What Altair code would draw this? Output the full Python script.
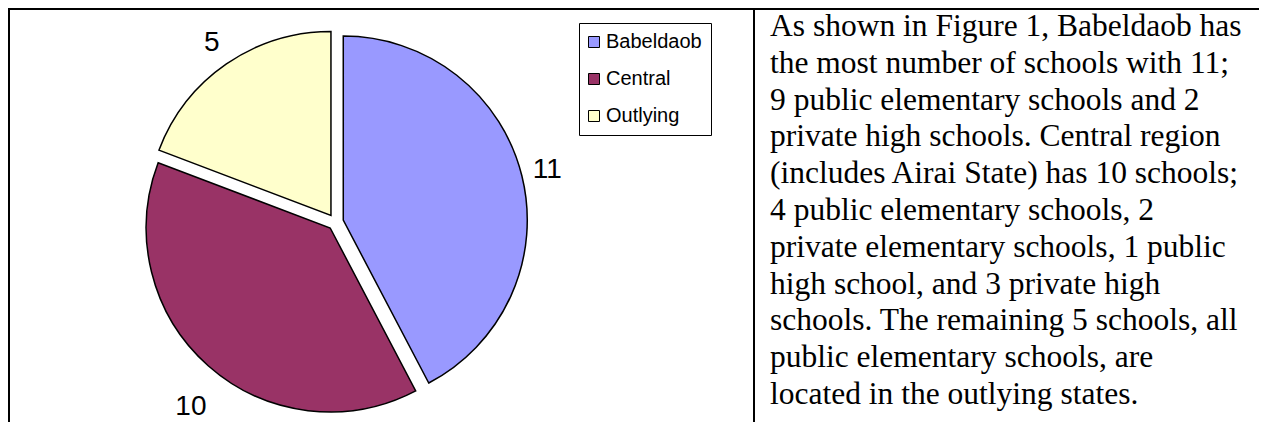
import altair as alt
import pandas as pd

# ---- data ----
regions = ["Babeldaob", "Central", "Outlying"]
schools = [11, 10, 5]
colors = ["#9999FF", "#993366", "#FFFFCC"]
paragraph = [
    "As shown in Figure 1, Babeldaob has",
    "the most number of schools with 11;",
    "9 public elementary schools and 2",
    "private high schools. Central region",
    "(includes Airai State) has 10 schools;",
    "4 public elementary schools, 2",
    "private elementary schools, 1 public",
    "high school, and 3 private high",
    "schools. The remaining 5 schools, all",
    "public elementary schools, are",
    "located in the outlying states.",
]

# ---- layout ----
W, H = 1251, 414
CX, CY = 327.5, 214      # pie centre
R = 184                  # pie radius
GAP = 8                  # explosion distance
LABEL_R = 210            # label distance from exploded centre
LABEL_DROP = 29          # extra push for labels below the pie
DIVIDER_X = 746
TEXT_X, TEXT_Y = 762, 28

df = pd.DataFrame({"region": regions, "schools": schools, "order": list(range(len(regions)))})

base = (
    alt.Chart(df)
    .transform_window(cum="sum(schools)", sort=[alt.SortField("order")], frame=[None, 0])
    .transform_joinaggregate(total="sum(schools)")
    .transform_calculate(
        t0="(datum.cum - datum.schools) / datum.total * 2 * PI",
        t1="datum.cum / datum.total * 2 * PI",
    )
    .transform_calculate(mid="(datum.t0 + datum.t1) / 2")
    .transform_calculate(
        px=f"{CX} + {GAP} * sin(datum.mid)",
        py=f"{CY} - {GAP} * cos(datum.mid)",
    )
    .transform_calculate(
        lx=f"datum.px + {LABEL_R} * sin(datum.mid)",
        ly=f"datum.py - {LABEL_R} * cos(datum.mid) + {LABEL_DROP} * max(0, -cos(datum.mid))",
    )
)

pie = base.mark_arc(radius=R, stroke="black", strokeWidth=1.5).encode(
    theta=alt.Theta("t0:Q", scale=None, stack=None),
    theta2=alt.Theta2("t1:Q"),
    x=alt.X("px:Q", scale=None, axis=None),
    y=alt.Y("py:Q", scale=None, axis=None),
    color=alt.Color(
        "region:N",
        scale=alt.Scale(domain=regions, range=colors),
        legend=alt.Legend(
            title=None,
            orient="none",
            legendX=571,
            legendY=15,
            fillColor="white",
            strokeColor="black",
            padding=9,
            symbolType="square",
            symbolSize=121,
            symbolStrokeColor="black",
            symbolStrokeWidth=1,
            symbolOpacity=1,
            symbolOffset=-4,
            labelFont="Liberation Sans",
            labelFontSize=20,
            labelColor="black",
            labelOffset=2,
            rowPadding=17,
        ),
    ),
)

labels = base.mark_text(
    font="Liberation Sans", fontSize=28, align="center", baseline="middle", color="black"
).encode(
    x=alt.X("lx:Q", scale=None, axis=None),
    y=alt.Y("ly:Q", scale=None, axis=None),
    text=alt.Text("schools:Q"),
)

one = alt.Data(values=[{}])

top_rule = alt.Chart(one).mark_rule(color="black", strokeWidth=2).encode(
    x=alt.value(0), x2=alt.value(W), y=alt.value(1)
)
left_rule = alt.Chart(one).mark_rule(color="black", strokeWidth=2).encode(
    x=alt.value(1), y=alt.value(0), y2=alt.value(H)
)
mid_rule = alt.Chart(one).mark_rule(color="black", strokeWidth=2).encode(
    x=alt.value(DIVIDER_X), y=alt.value(0), y2=alt.value(H)
)

para = alt.Chart(one).mark_text(
    text=paragraph,
    font="Liberation Serif",
    fontSize=31.5,
    lineHeight=36.8,
    align="left",
    baseline="alphabetic",
    color="black",
).encode(x=alt.value(TEXT_X), y=alt.value(TEXT_Y))

chart = (
    alt.layer(top_rule, left_rule, mid_rule, pie, labels, para)
    .properties(width=W, height=H, padding=0, autosize="none", background="white")
    .configure_view(stroke=None)
)

chart.save("out.html", embed_options={"renderer": "svg", "actions": False})
